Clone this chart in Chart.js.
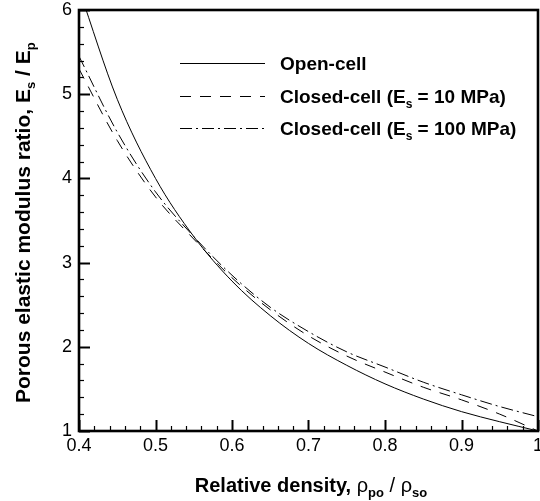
<!DOCTYPE html>
<html>
<head>
<meta charset="utf-8">
<script src="https://cdn.jsdelivr.net/npm/chart.js@4/dist/chart.umd.min.js"></script>
<style>
  html, body { margin: 0; padding: 0; background: #fff; }
  #wrap { position: relative; width: 540px; height: 501px; overflow: hidden;
          font-family: 'Liberation Sans', Arial, Helvetica, sans-serif; color: #000; }
  #wrap canvas { position: absolute; left: 0; top: 0; }
  .lab { position: absolute; white-space: nowrap; font-weight: bold; }
  .legend { left: 280px; font-size: 19px; line-height: 19px; }
  .sub { position: relative; top: 5px; font-size: 12px; }
  .xtitle { left: 111px; width: 400px; top: 475px; text-align: center; font-size: 20px; line-height: 20px; }
  .xtitle .rho { font-weight: normal; }
  .xtitle .sub { font-size: 13px; }
  .ytitle { left: 12px; top: 403px; font-size: 21px; line-height: 21px;
            transform-origin: 0 0; transform: rotate(-90deg); }
  .ytitle .sub { font-size: 13px; }
  #keys { position: absolute; left: 0; top: 0; }
</style>
</head>
<body>
<div id="wrap">
  <canvas id="modulusChart" width="540" height="501"></canvas>
  <svg id="keys" width="540" height="160">
    <line x1="180" y1="63.5" x2="265" y2="63.5" stroke="#000" stroke-width="1"/>
    <line x1="180" y1="96.5" x2="265" y2="96.5" stroke="#000" stroke-width="1" stroke-dasharray="11 9"/>
    <line x1="180" y1="128.5" x2="265" y2="128.5" stroke="#000" stroke-width="1" stroke-dasharray="12 4 2 4"/>
  </svg>
  <div class="lab legend" style="top:54px">Open-cell</div>
  <div class="lab legend" style="top:87px">Closed-cell (E<span class="sub">s</span> = 10 MPa)</div>
  <div class="lab legend" style="top:119px">Closed-cell (E<span class="sub">s</span> = 100 MPa)</div>
  <div class="lab xtitle">Relative density, <span class="rho">ρ</span><span class="sub">po</span><span class="rho"> / ρ</span><span class="sub">so</span></div>
  <div class="lab ytitle">Porous elastic modulus ratio, E<span class="sub">s</span> / E<span class="sub">p</span></div>
</div>
<script>
// values
const density = [0.40, 0.45, 0.50, 0.55, 0.60, 0.65, 0.70, 0.75, 0.80, 0.85, 0.90, 0.95, 1.00];
const openCell = [6.25, 4.94, 4.00, 3.31, 2.78, 2.37, 2.04, 1.78, 1.56, 1.38, 1.23, 1.11, 1.00];
const closed10 = [5.30, 4.45, 3.78, 3.28, 2.82, 2.44, 2.13, 1.89, 1.70, 1.52, 1.37, 1.20, 1.00];
const closed100 = [5.45, 4.55, 3.84, 3.31, 2.85, 2.47, 2.18, 1.94, 1.76, 1.58, 1.43, 1.29, 1.17];
const xTicks = [0.4, 0.5, 0.6, 0.7, 0.8, 0.9, 1];
const yTicks = [1, 2, 3, 4, 5, 6];

const FONT = "'Liberation Sans', Arial, Helvetica, sans-serif";

function pts(ys) {
    return density.map((x, i) => ({ x: x, y: ys[i] }));
}

// box round the plot and inward tick marks (major every 0.1 / 1, minor every 0.02 / 0.2)
const axesFrame = {
    id: 'axesFrame',
    afterDraw(chart) {
        const c = chart.ctx, a = chart.chartArea;
        const sx = chart.scales.x, sy = chart.scales.y;
        c.save();
        c.setLineDash([]);
        c.strokeStyle = '#000';
        c.lineWidth = 2.6;
        c.strokeRect(a.left, a.top, a.right - a.left, a.bottom - a.top);

        for (let i = 0; i <= 30; i++) {
            const px = Math.round(sx.getPixelForValue(0.4 + i * 0.02)) + 0.5;
            const major = i % 5 === 0;
            c.lineWidth = major ? 2 : 1.2;
            c.beginPath();
            c.moveTo(px, a.bottom);
            c.lineTo(px, a.bottom - (major ? 11 : 5));
            c.stroke();
        }
        for (let i = 0; i <= 25; i++) {
            const py = Math.round(sy.getPixelForValue(1 + i * 0.2)) + 0.5;
            const major = i % 5 === 0;
            c.lineWidth = major ? 2 : 1.2;
            c.beginPath();
            c.moveTo(a.left, py);
            c.lineTo(a.left + (major ? 11 : 5), py);
            c.stroke();
        }
        c.restore();
    }
};

const lineBase = { borderColor: '#000', borderWidth: 1, pointRadius: 0, fill: false, cubicInterpolationMode: 'monotone' };

new Chart(document.getElementById('modulusChart').getContext('2d'), {
    type: 'line',
    data: {
        datasets: [
            Object.assign({ label: 'Open-cell', data: pts(openCell) }, lineBase),
            Object.assign({ label: 'Closed-cell (Es = 10 MPa)', data: pts(closed10), borderDash: [11, 9] }, lineBase),
            Object.assign({ label: 'Closed-cell (Es = 100 MPa)', data: pts(closed100), borderDash: [12, 4, 2, 4] }, lineBase)
        ]
    },
    options: {
        responsive: false,
        animation: false,
        layout: { padding: { top: 10, right: 2, left: 0, bottom: 0 } },
        plugins: { legend: { display: false }, tooltip: { enabled: false } },
        scales: {
            x: {
                type: 'linear',
                min: 0.4,
                max: 1,
                grid: { display: false, drawTicks: false },
                border: { display: false },
                afterBuildTicks(scale) { scale.ticks = xTicks.map(v => ({ value: v })); },
                afterFit(scale) { scale.height = 70; scale.paddingLeft = 0; scale.paddingRight = 0; },
                ticks: {
                    color: '#000',
                    padding: 4,
                    maxRotation: 0,
                    font: { family: FONT, size: 18 },
                    callback: v => String(Math.round(v * 10) / 10)
                }
            },
            y: {
                type: 'linear',
                min: 1,
                max: 6,
                grid: { display: false, drawTicks: false },
                border: { display: false },
                afterBuildTicks(scale) { scale.ticks = yTicks.map(v => ({ value: v })); },
                afterFit(scale) { scale.width = 79; scale.paddingTop = 0; scale.paddingBottom = 0; },
                ticks: {
                    color: '#000',
                    padding: 7,
                    font: { family: FONT, size: 18 },
                    callback: v => String(v)
                }
            }
        }
    },
    plugins: [axesFrame]
});
</script>
</body>
</html>
